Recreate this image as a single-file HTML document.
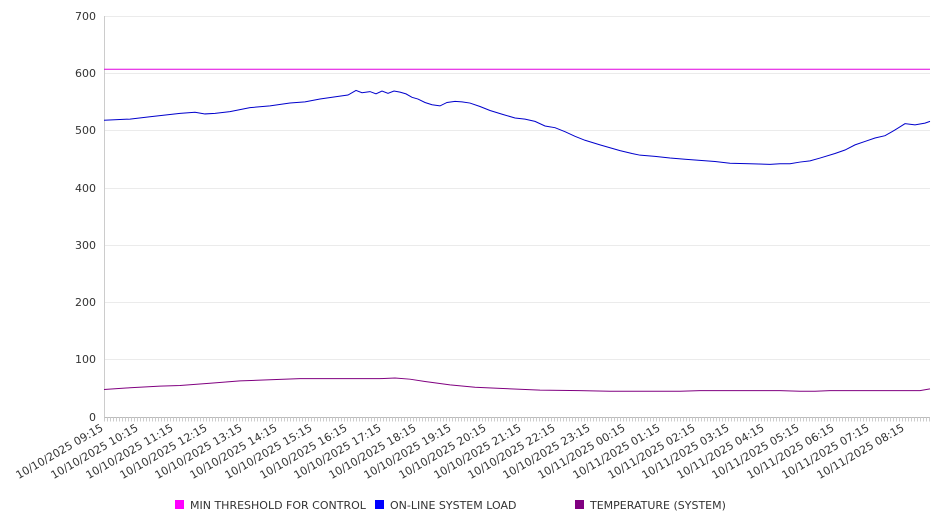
<!DOCTYPE html>
<html><head><style>
body{margin:0;background:#fff;}
svg{display:block;font-family:"DejaVu Sans","Liberation Sans",sans-serif;}
</style></head><body>
<svg width="946" height="526" viewBox="0 0 946 526" xmlns="http://www.w3.org/2000/svg">
<g stroke="#ebebeb" stroke-width="1">
<line x1="104" y1="16.5" x2="930" y2="16.5"/>
<line x1="104" y1="73.5" x2="930" y2="73.5"/>
<line x1="104" y1="130.5" x2="930" y2="130.5"/>
<line x1="104" y1="188.5" x2="930" y2="188.5"/>
<line x1="104" y1="245.5" x2="930" y2="245.5"/>
<line x1="104" y1="302.5" x2="930" y2="302.5"/>
<line x1="104" y1="359.5" x2="930" y2="359.5"/>
</g>
<line x1="104.5" y1="16" x2="104.5" y2="417" stroke="#ccc"/>
<line x1="104" y1="417.5" x2="930" y2="417.5" stroke="#bbb"/>
<line x1="104" y1="419.5" x2="930" y2="419.5" stroke="#ccc" stroke-width="4" stroke-dasharray="1 2"/>
<g font-size="11" fill="#333" text-anchor="end">
<text x="96" y="20">700</text><text x="96" y="77">600</text><text x="96" y="134">500</text>
<text x="96" y="192">400</text><text x="96" y="249">300</text><text x="96" y="306">200</text>
<text x="96" y="363">100</text><text x="96" y="421">0</text>
</g>
<g transform="translate(0,417) scale(1,-0.5729)" fill="none">
<polyline vector-effect="non-scaling-stroke" stroke="#e000e0" stroke-width="1" points="104,607 930,607"/>
<polyline vector-effect="non-scaling-stroke" stroke="#0000cc" stroke-width="1" points="104,518 130,520 150,524 180,530 195,532 205,529 215,530 230,533 250,540 270,543 290,548 305,550 320,555 340,560 348,562 356,570 362,566 370,568 376,564 382,569 388,565 394,569 400,567 406,564 412,558 418,555 425,549 432,545 440,543 447,549 455,551 462,550 470,548 480,542 490,535 503,528 515,522 525,520 535,516 545,508 555,505 565,498 575,490 585,483 600,475 610,470 620,465 632,460 640,457 655,455 670,452 685,450 700,448 715,446 730,443 750,442 770,441 780,442 790,442 800,445 810,447 820,452 835,460 845,466 855,475 865,481 875,487 885,491 895,501 905,512 915,510 925,513 930,516"/>
<polyline vector-effect="non-scaling-stroke" stroke="#800080" stroke-width="1" points="104,48 130,51 160,54 180,55 210,59 240,63 270,65 300,67 340,67 380,67 395,68 410,66 425,62 450,56 475,52 500,50 540,47 580,46 610,45 680,45 700,46 780,46 800,45 815,45 830,46 920,46 930,49"/>
</g>
<g font-size="11" fill="#333" text-anchor="end">
<text transform="translate(104,430) rotate(-30)">10/10/2025 09:15</text>
<text transform="translate(139,430) rotate(-30)">10/10/2025 10:15</text>
<text transform="translate(174,430) rotate(-30)">10/10/2025 11:15</text>
<text transform="translate(208,430) rotate(-30)">10/10/2025 12:15</text>
<text transform="translate(243,430) rotate(-30)">10/10/2025 13:15</text>
<text transform="translate(278,430) rotate(-30)">10/10/2025 14:15</text>
<text transform="translate(313,430) rotate(-30)">10/10/2025 15:15</text>
<text transform="translate(348,430) rotate(-30)">10/10/2025 16:15</text>
<text transform="translate(382,430) rotate(-30)">10/10/2025 17:15</text>
<text transform="translate(417,430) rotate(-30)">10/10/2025 18:15</text>
<text transform="translate(452,430) rotate(-30)">10/10/2025 19:15</text>
<text transform="translate(487,430) rotate(-30)">10/10/2025 20:15</text>
<text transform="translate(522,430) rotate(-30)">10/10/2025 21:15</text>
<text transform="translate(556,430) rotate(-30)">10/10/2025 22:15</text>
<text transform="translate(591,430) rotate(-30)">10/10/2025 23:15</text>
<text transform="translate(626,430) rotate(-30)">10/11/2025 00:15</text>
<text transform="translate(661,430) rotate(-30)">10/11/2025 01:15</text>
<text transform="translate(696,430) rotate(-30)">10/11/2025 02:15</text>
<text transform="translate(730,430) rotate(-30)">10/11/2025 03:15</text>
<text transform="translate(765,430) rotate(-30)">10/11/2025 04:15</text>
<text transform="translate(800,430) rotate(-30)">10/11/2025 05:15</text>
<text transform="translate(835,430) rotate(-30)">10/11/2025 06:15</text>
<text transform="translate(870,430) rotate(-30)">10/11/2025 07:15</text>
<text transform="translate(905,430) rotate(-30)">10/11/2025 08:15</text>
</g>
<g font-size="11" fill="#333">
<rect x="175" y="500" width="9" height="9" fill="#ff00ff"/><text x="190" y="509">MIN THRESHOLD FOR CONTROL</text>
<rect x="375" y="500" width="9" height="9" fill="#0000ff"/><text x="390" y="509">ON-LINE SYSTEM LOAD</text>
<rect x="575" y="500" width="9" height="9" fill="#800080"/><text x="590" y="509">TEMPERATURE (SYSTEM)</text>
</g>
</svg>
</body></html>
